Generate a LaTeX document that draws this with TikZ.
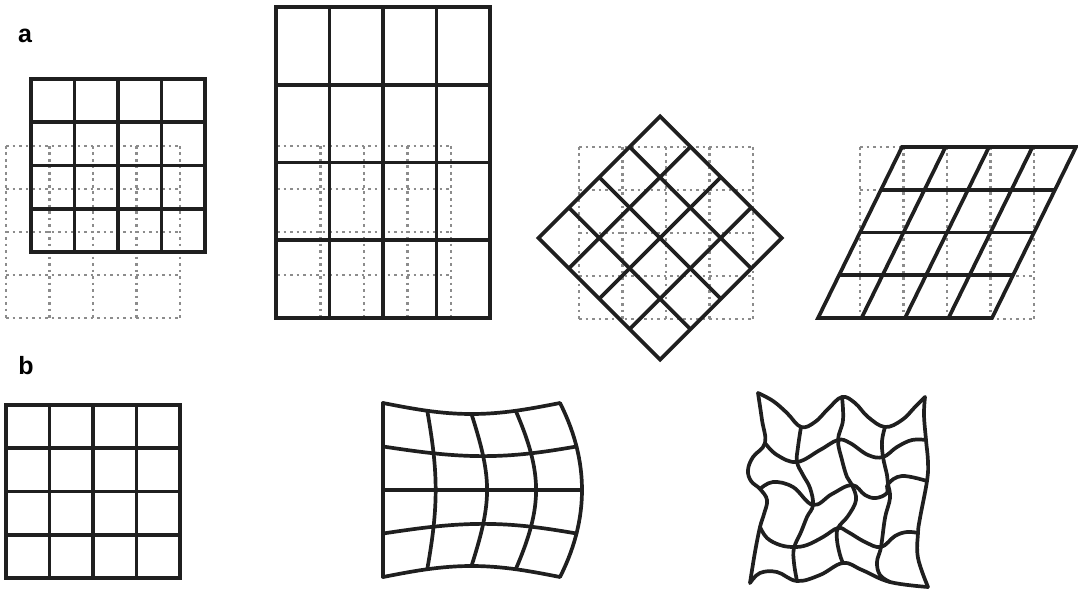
\documentclass[tikz,border=0pt]{standalone}
\usepackage{fontspec}
\newfontfamily\labelfont{Liberation Sans}
\tikzset{
  mesh line/.style={black!88,line width=3.7pt,line join=miter},
  mesh ghost/.style={black!45,line width=2.6pt,dash pattern=on 2.6pt off 3.9pt},
  mesh warp/.style={black!88,line width=3.7pt,line cap=round,line join=round},
  panel label/.style={font=\labelfont\bfseries\fontsize{25}{28}\selectfont,anchor=base,inner sep=0pt}
}

\begin{document}
\begin{tikzpicture}[x=1pt,y=-1pt,
  declare function={wx(\u,\v)=383+177*\u+22*sin(90*\u)*(1-pow(\v,2));
                    wy(\u,\v)=490+87*\v-11*sin(180*\u)*\v*(2-pow(\v,2));}]
  \useasboundingbox (0,0) rectangle (1078,596);

  \node[panel label] (lbl-a) at (25,43) {a};
  \node[panel label] (lbl-b) at (26,374) {b};

  % undeformed squares behind row a
  \foreach \ox/\oy in {6/146,277/146,579/147,860/147}
    \foreach \k in {0,...,4} {
      \draw[mesh ghost] (\ox+43.5*\k,\oy) -- (\ox+43.5*\k,\oy+172);
      \draw[mesh ghost] (\ox,\oy+43*\k) -- (\ox+174,\oy+43*\k);
    }

  % translation
  \draw[mesh line] (31,79) rectangle (205,252);
  \foreach \k in {1,2,3} {
    \draw[mesh line] (31+43.5*\k,79) -- (31+43.5*\k,252);
    \draw[mesh line] (31,79+43.25*\k) -- (205,79+43.25*\k);
  }

  % scaling
  \draw[mesh line] (276,7) rectangle (490,318);
  \foreach \k in {1,2,3} {
    \draw[mesh line] (276+53.5*\k,7) -- (276+53.5*\k,318);
    \draw[mesh line] (276,7+77.75*\k) -- (490,7+77.75*\k);
  }

  % rotation
  \begin{scope}[shift={(660,238)},rotate=45]
    \draw[mesh line] (-86,-86) rectangle (86,86);
    \foreach \k in {-43,0,43} {
      \draw[mesh line] (\k,-86) -- (\k,86);
      \draw[mesh line] (-86,\k) -- (86,\k);
    }
  \end{scope}

  % shear
  \draw[mesh line] (818,318) -- (992,318) -- (1076,147) -- (902,147) -- cycle;
  \foreach \k in {1,2,3} {
    \draw[mesh line] (818+43.5*\k,318) -- (902+43.5*\k,147);
    \draw[mesh line] (818+21*\k,318-42.75*\k) -- (992+21*\k,318-42.75*\k);
  }

  % row b: regular grid
  \draw[mesh line] (6,405) rectangle (180,578);
  \foreach \k in {1,2,3} {
    \draw[mesh line] (6+43.5*\k,405) -- (6+43.5*\k,578);
    \draw[mesh line] (6,405+43.25*\k) -- (180,405+43.25*\k);
  }

  % smooth warp
  \foreach \v in {-1,-0.5,0,0.5,1}
    \draw[mesh warp] plot[domain=0:1,samples=30,variable=\u] ({wx(\u,\v)},{wy(\u,\v)});
  \foreach \u in {0,0.25,0.5,0.75,1}
    \draw[mesh warp] plot[domain=-1:1,samples=30,variable=\v] ({wx(\u,\v)},{wy(\u,\v)});

  % irregular warp
  \begin{scope}[mesh warp,smooth,tension=0.65]
    \draw plot coordinates {(758,393) (773,401) (787,413) (801,427) (815,422) (828,409) (842,397) (855,403) (868,417) (885,427) (902,420) (915,407) (925,397)};
    \draw plot coordinates {(765,443) (777,455) (797,462) (820,450) (838,440) (850,443) (868,455) (883,457) (897,447) (912,440) (926,440)};
    \draw plot coordinates {(760,489) (773,482) (793,487) (813,505) (832,494) (852,485) (865,495) (876,498) (887,493) (888,484) (902,476) (927,481)};
    \draw plot coordinates {(760,527) (767,538) (780,545) (794,547) (807,545) (823,537) (838,528) (848,532) (865,542) (881,547) (895,536) (907,532) (918,533)};
    \draw plot coordinates {(750,583) (760,573) (777,572) (797,581) (820,575) (843,563) (862,570) (890,582) (928,587)};
    \draw plot coordinates {(758,393) (762,420) (765,443) (753,457) (748,470) (751,481) (760,489) (767,500) (764,514) (760,527) (755,552) (750,583)};
    \draw plot coordinates {(801,427) (798,447) (797,462) (803,475) (810,488) (813,505) (807,517) (801,532) (794,548) (794,563) (797,581)};
    \draw plot coordinates {(842,397) (843,420) (838,440) (842,460) (847,477) (852,485) (856,500) (848,516) (838,528) (837,540) (840,555) (843,563)};
    \draw plot coordinates {(885,427) (882,441) (883,457) (887,475) (888,484) (890,498) (885,518) (881,547) (877,562) (880,575) (890,582)};
    \draw plot coordinates {(925,397) (924,415) (926,440) (928,462) (927,481) (920,518) (918,533) (918,558) (928,587)};
  \end{scope}
\end{tikzpicture}
\end{document}
